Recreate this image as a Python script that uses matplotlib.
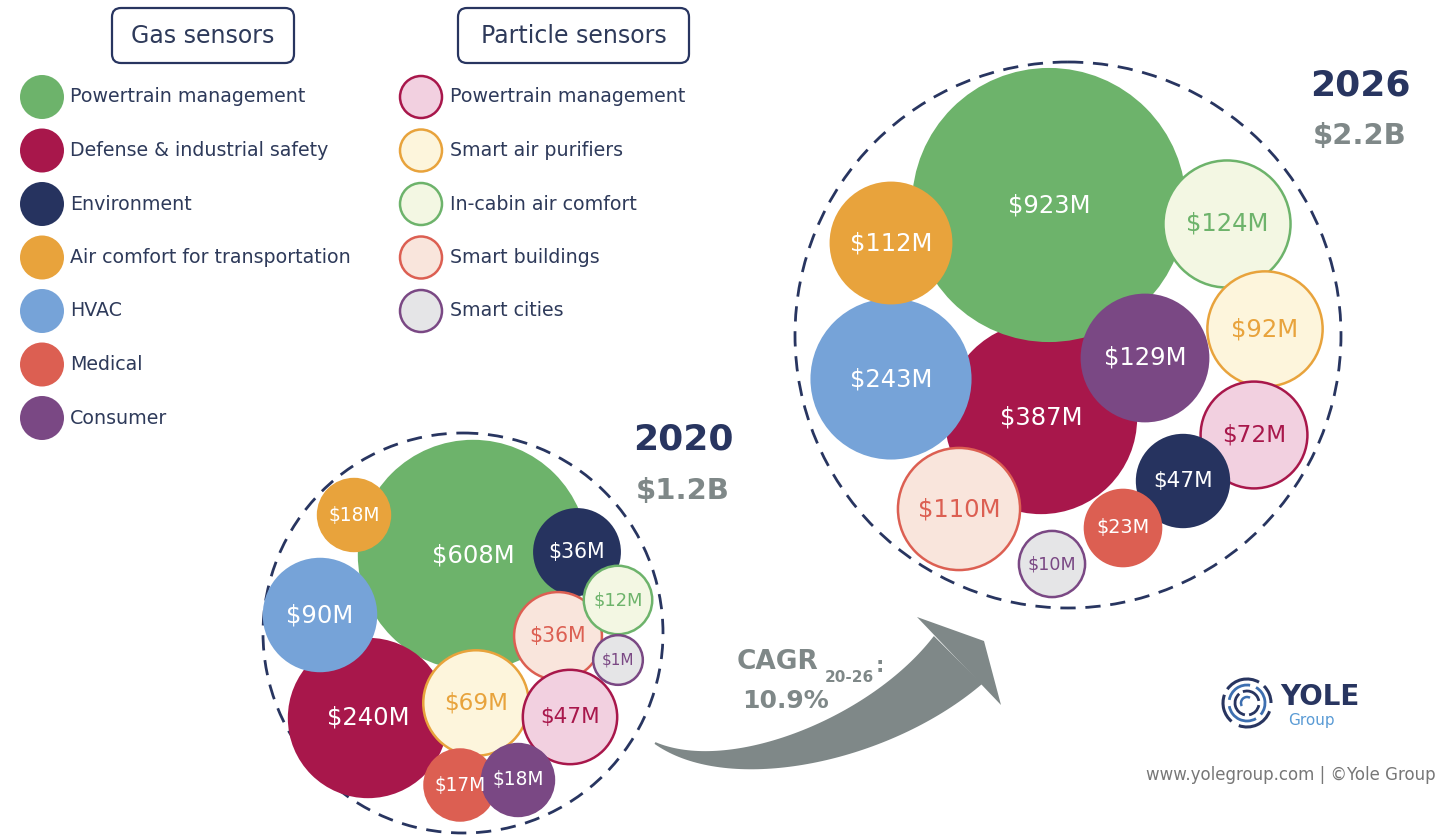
import numpy as np
import matplotlib.pyplot as plt
from matplotlib.patches import Circle, FancyBboxPatch, Polygon, Arc

# Market size by application, $M
gas_categories = ['Powertrain management', 'Defense & industrial safety', 'Environment',
                  'Air comfort for transportation', 'HVAC', 'Medical', 'Consumer']
particle_categories = ['Powertrain management', 'Smart air purifiers', 'In-cabin air comfort',
                       'Smart buildings', 'Smart cities']
gas_2020 = [608, 240, 36, 18, 90, 17, 18]
particle_2020 = [47, 69, 12, 36, 1]
gas_2026 = [923, 387, 47, 112, 243, 23, 129]
particle_2026 = [72, 92, 124, 110, 10]
year_labels = ['2020', '2026']
total_labels = ['$1.2B', '$2.2B']
cagr_label = '10.9%'

# styles
gas_colors = ['#6db36b', '#a8174b', '#26335f', '#e8a33c', '#76a3d8', '#dc5f52', '#7a4884']
particle_fill = ['#f2d0e0', '#fdf5dc', '#f3f7e3', '#f9e5dc', '#e5e5e7']
particle_edge = ['#a8174b', '#e8a33c', '#6db36b', '#dc5f52', '#7a4884']
navy = '#283560'
grey = '#7f8888'
text_col = '#2e3a5a'

# layout (pixel space of the picture), bubble centres per cluster
gas_pos_2020 = [(473, 555), (368, 718), (577, 552), (354, 515), (320, 615), (460, 785), (518, 780)]
particle_pos_2020 = [(570, 717), (476, 703), (618, 600), (558, 636), (618, 660)]
gas_pos_2026 = [(1049, 205), (1041, 418), (1183, 481), (891, 243), (891, 379), (1123, 528), (1145, 358)]
particle_pos_2026 = [(1254, 435), (1265, 329), (1227, 224), (959, 509), (1052, 564)]
# draw order (back to front): (kind, index)
order_2020 = [('g', 0), ('g', 1), ('g', 4), ('g', 3), ('g', 2), ('p', 1), ('p', 3),
              ('p', 2), ('p', 4), ('p', 0), ('g', 5), ('g', 6)]
order_2026 = [('g', 1), ('g', 0), ('g', 4), ('g', 3), ('g', 6), ('p', 2), ('p', 1),
              ('p', 0), ('p', 3), ('g', 2), ('g', 5), ('p', 4)]


def radius(v):
    return 21 + 3.82 * np.sqrt(v)


fig = plt.figure(figsize=(14.42, 8.39), dpi=100)
ax = fig.add_axes([0, 0, 1, 1])
ax.set_xlim(0, 1442)
ax.set_ylim(839, 0)
ax.axis('off')


def draw_cluster(gvals, pvals, gpos, ppos, order):
    for kind, i in order:
        if kind == 'g':
            v, (x, y) = gvals[i], gpos[i]
            r = radius(v)
            ax.add_patch(Circle((x, y), r, facecolor=gas_colors[i], edgecolor='none', zorder=2))
            tc = 'white'
        else:
            v, (x, y) = pvals[i], ppos[i]
            r = radius(v)
            ax.add_patch(Circle((x, y), r, facecolor=particle_fill[i], edgecolor=particle_edge[i],
                                lw=1.8, zorder=2))
            tc = particle_edge[i]
        fs = min(17.5, 6 + 0.2 * r)
        ax.text(x, y, f'${v}M', ha='center', va='center', color=tc, fontsize=fs, zorder=3)


draw_cluster(gas_2020, particle_2020, gas_pos_2020, particle_pos_2020, order_2020)
draw_cluster(gas_2026, particle_2026, gas_pos_2026, particle_pos_2026, order_2026)

# dashed envelopes
for (cx, cy), r in [((463, 633), 200), ((1068, 335), 273)]:
    ax.add_patch(Circle((cx, cy), r, fill=False, edgecolor=navy, lw=2, ls=(0, (5.5, 3.5)), zorder=1))

# year / total labels
for (x, y), yr, tot in zip([(683, 440), (1360, 85)], year_labels, total_labels):
    ax.text(x, y, yr, ha='center', va='center', fontsize=26, fontweight='bold', color=navy)
    ax.text(x, y + 51, tot, ha='center', va='center', fontsize=21, fontweight='bold', color=grey)

# legend headers
for x0, w, label in [(112, 182, 'Gas sensors'), (458, 231, 'Particle sensors')]:
    ax.add_patch(FancyBboxPatch((x0, 8), w, 55, boxstyle='round,pad=0,rounding_size=9',
                                facecolor='white', edgecolor=navy, lw=1.6))
    ax.text(x0 + w / 2, 36, label, ha='center', va='center', fontsize=17, color=text_col)

row_y = 97 + 53.5 * np.arange(len(gas_categories))
for i, lab in enumerate(gas_categories):
    ax.add_patch(Circle((42, row_y[i]), 22, facecolor=gas_colors[i], edgecolor='none'))
    ax.text(70, row_y[i], lab, ha='left', va='center', fontsize=13.7, color=text_col)
for i, lab in enumerate(particle_categories):
    ax.add_patch(Circle((421, row_y[i]), 21, facecolor=particle_fill[i],
                        edgecolor=particle_edge[i], lw=1.8))
    ax.text(450, row_y[i], lab, ha='left', va='center', fontsize=13.7, color=text_col)

# growth arrow: tapered curved body + head
t = np.linspace(0, 1, 80)
P = np.array([(655, 743), (730, 785), (880, 740), (958, 660)], dtype=float)
curve = ((1 - t) ** 3)[:, None] * P[0] + (3 * (1 - t) ** 2 * t)[:, None] * P[1] \
    + (3 * (1 - t) * t ** 2)[:, None] * P[2] + (t ** 3)[:, None] * P[3]
d = np.gradient(curve, axis=0)
nrm = np.stack([-d[:, 1], d[:, 0]], axis=1)
nrm /= np.linalg.norm(nrm, axis=1)[:, None]
w = (2 + 66 * t ** 1.05) / 2
upper = curve - nrm * w[:, None]
lower = curve + nrm * w[:, None]
ax.add_patch(Polygon(np.vstack([upper, lower[::-1]]), closed=True, facecolor=grey,
                     edgecolor='none', zorder=1))
ax.add_patch(Polygon([(917, 617), (984, 641), (1001, 705)], closed=True, facecolor=grey,
                     edgecolor='none', zorder=1))

ax.text(737, 662, 'CAGR', ha='left', va='center', fontsize=19, fontweight='bold', color=grey)
ax.text(825, 677, '20-26', ha='left', va='center', fontsize=11, fontweight='bold', color=grey)
ax.text(876, 666, ':', ha='left', va='center', fontsize=15, fontweight='bold', color=grey)
ax.text(742, 701, cagr_label, ha='left', va='center', fontsize=18, fontweight='bold', color=grey)

# logo
lc = (1247, 703)
for r, segs, col, lw in [(24, [(20, 110), (130, 200), (215, 300), (315, 360)], navy, 2.2),
                         (18, [(60, 170), (190, 280), (300, 40)], '#3d6fb0', 2.0),
                         (12, [(100, 230), (250, 350), (10, 80)], navy, 2.0),
                         (6, [(150, 300)], '#3d6fb0', 1.8)]:
    for a0, a1 in segs:
        ax.add_patch(Arc(lc, 2 * r, 2 * r, theta1=a0, theta2=a1, color=col, lw=lw))
ax.text(1280, 697, 'YOLE', ha='left', va='center', fontsize=20, fontweight='bold', color=navy)
ax.text(1311, 720, 'Group', ha='center', va='center', fontsize=11, color='#5a9bd5')
ax.text(1146, 775, 'www.yolegroup.com | ©Yole Group', ha='left', va='center', fontsize=12,
        color='#777777')

fig.savefig('out.png', dpi=100)
